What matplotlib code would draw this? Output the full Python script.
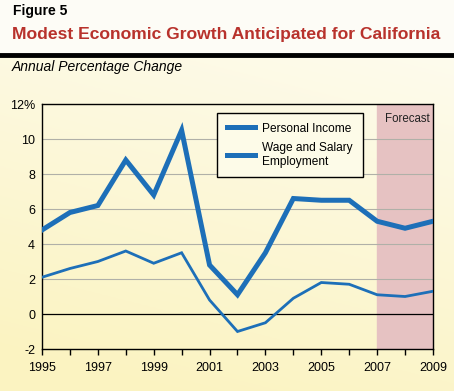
import matplotlib.pyplot as plt
import numpy as np
from matplotlib.lines import Line2D

plt.rcParams['font.family'] = ['Liberation Sans', 'DejaVu Sans']

# 数据
years = list(range(1995, 2010))
personal_income = [4.8, 5.8, 6.2, 8.8, 6.8, 10.5, 2.8, 1.1, 3.5, 6.6, 6.5, 6.5, 5.3, 4.9, 5.3]
wage_salary = [2.1, 2.6, 3.0, 3.6, 2.9, 3.5, 0.8, -1.0, -0.5, 0.9, 1.8, 1.7, 1.1, 1.0, 1.3]
forecast_start, forecast_end = 2007, 2009
y_ticks = [-2, 0, 2, 4, 6, 8, 10, 12]
y_labels = ['-2', '0', '2', '4', '6', '8', '10', '12%']
x_label_years = [1995, 1997, 1999, 2001, 2003, 2005, 2007, 2009]

blue = '#1d6fb8'

fig = plt.figure(figsize=(4.54, 3.91), dpi=100)

# 背景渐变
bg = fig.add_axes([0, 0, 1, 1], zorder=-10)
yy, xx = np.mgrid[0:1:200j, 0:1:200j]
t = np.clip(yy * 0.85 + (1 - xx) * 0.25, 0, 1)
top = np.array([0.995, 0.990, 0.955])
bottom = np.array([0.985, 0.955, 0.76])
img = top[None, None, :] * (1 - t[..., None]) + bottom[None, None, :] * t[..., None]
img[:int(200 * 55 / 391)] = [0.995, 0.990, 0.965]
bg.imshow(img, aspect='auto', extent=[0, 1, 1, 0])
bg.set_xlim(0, 1)
bg.set_ylim(1, 0)
bg.axis('off')

# 标题区
fig.text(0.029, 0.972, 'Figure 5', fontsize=10, fontweight='bold', va='center', ha='left')
fig.text(0.027, 0.912, 'Modest Economic Growth Anticipated for California', fontsize=12.6,
         fontweight='bold', color='#b8322c', va='center', ha='left')
fig.add_artist(Line2D([0, 1], [1 - 55 / 391, 1 - 55 / 391], color='black', linewidth=3.5,
                      transform=fig.transFigure))
fig.text(0.026, 0.828, 'Annual Percentage Change', fontsize=10, style='italic',
         va='center', ha='left')

ax = fig.add_axes([0.0925, 0.1074, 0.8612, 0.6266])
ax.set_facecolor('none')

ax.axvspan(forecast_start, forecast_end, color='#e6c2c2', zorder=0)
for yv in y_ticks[2:-1]:
    ax.axhline(yv, color='#b0b0a8', linewidth=0.8, zorder=1)
ax.axhline(0, color='black', linewidth=0.9, zorder=1)

ax.plot(years, wage_salary, color=blue, linewidth=2.0, zorder=3, solid_joinstyle='miter')
ax.plot(years, personal_income, color=blue, linewidth=3.6, zorder=4, solid_joinstyle='miter')

ax.text(2008.07, 11.15, 'Forecast', fontsize=8.3, ha='center', va='center', color='#222222')

ax.set_xlim(1995, 2009)
ax.set_ylim(-2, 12)
ax.set_yticks(y_ticks)
ax.set_yticklabels(y_labels)
ax.set_xticks(years)
ax.set_xticklabels([str(y) if y in x_label_years else '' for y in years])
ax.tick_params(axis='x', direction='out', length=4, width=1, labelsize=9, pad=5)
ax.tick_params(axis='y', length=0, labelsize=9, pad=5)
for s in ax.spines.values():
    s.set_linewidth(1.0)
    s.set_color('black')

handles = [Line2D([], [], color=blue, linewidth=3.6),
           Line2D([], [], color=blue, linewidth=3.6)]
leg = ax.legend(handles, ['Personal Income', 'Wage and Salary\nEmployment'],
                loc='upper left', bbox_to_anchor=(0.4476, 0.963), borderaxespad=0,
                fontsize=8.6, frameon=True, fancybox=False, edgecolor='black',
                facecolor='#fdfbe8', framealpha=1, handlelength=2.4, borderpad=0.8,
                labelspacing=0.6, handletextpad=0.6)
leg.get_frame().set_linewidth(1.0)

fig.savefig('out.png', dpi=100)
